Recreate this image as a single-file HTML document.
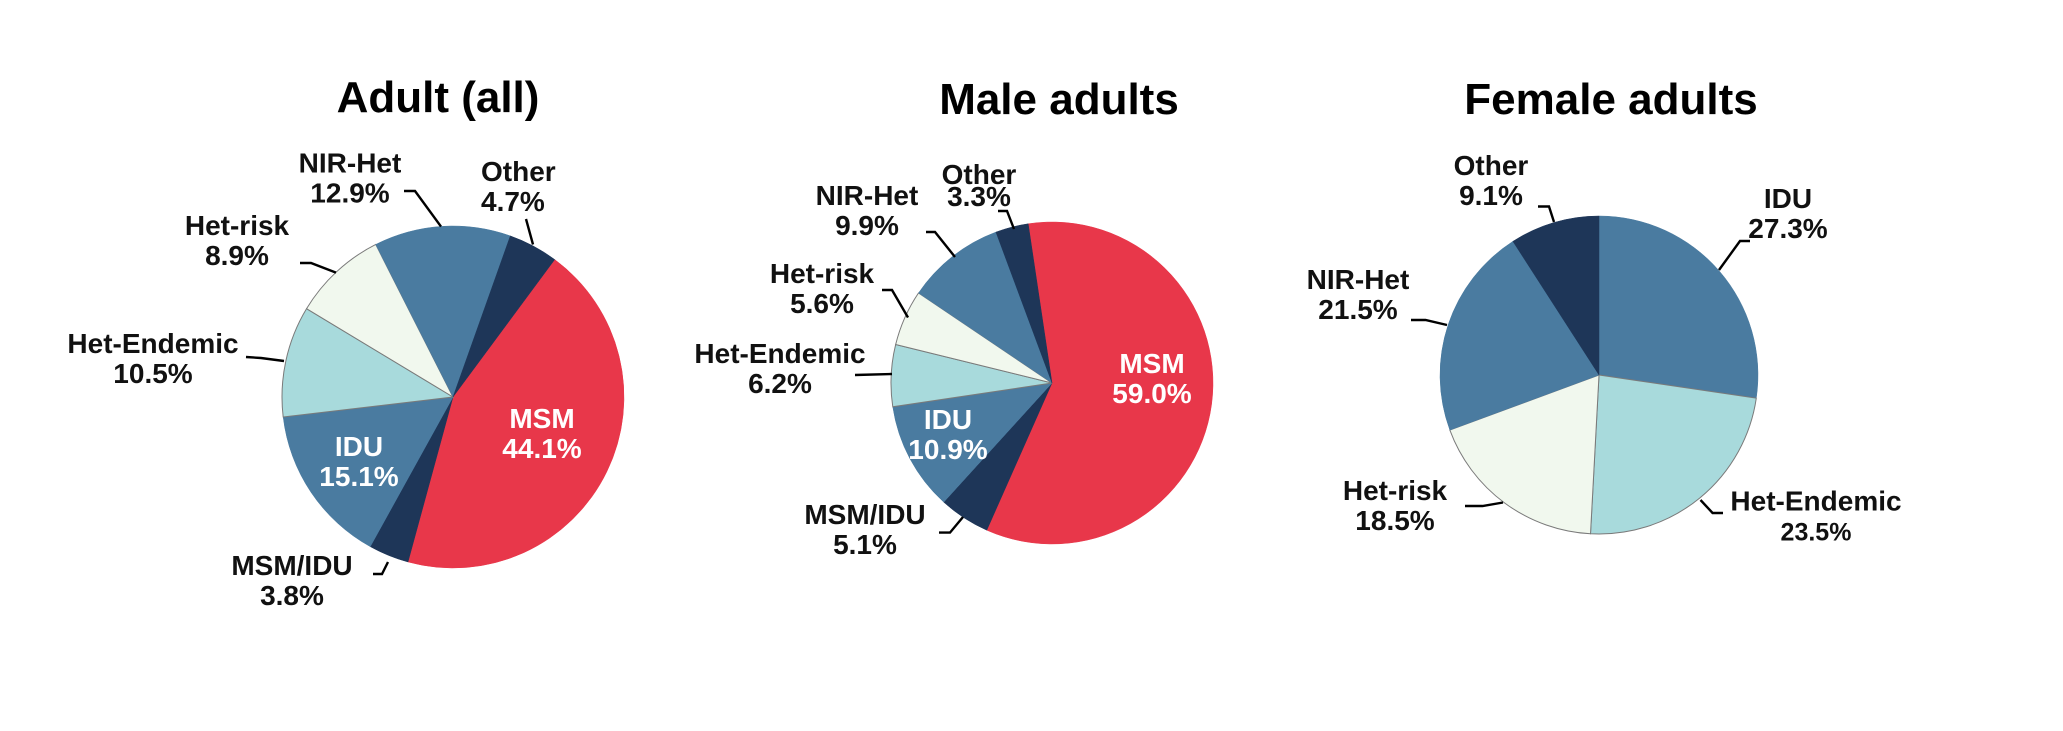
<!DOCTYPE html>
<html><head><meta charset="utf-8"><style>
html,body{margin:0;padding:0;background:#fff;}
svg{display:block;}
text{font-family:"Liberation Sans",sans-serif;font-weight:bold;}
</style></head><body>
<svg id="root" width="2063" height="731" viewBox="0 0 2063 731" xmlns="http://www.w3.org/2000/svg">
<rect width="2063" height="731" fill="#fff"/>
</svg>
<script>
// ---- Data ----
const adultCats = ["MSM","MSM/IDU","IDU","Het-Endemic","Het-risk","NIR-Het","Other"];
const adultVals = [44.1,3.8,15.1,10.5,8.9,12.9,4.7];
const maleCats = ["MSM","MSM/IDU","IDU","Het-Endemic","Het-risk","NIR-Het","Other"];
const maleVals = [59.0,5.1,10.9,6.2,5.6,9.9,3.3];
const femaleCats = ["IDU","Het-Endemic","Het-risk","NIR-Het","Other"];
const femaleVals = [27.3,23.5,18.5,21.5,9.1];
const titles = ["Adult (all)","Male adults","Female adults"];

const colors = {"MSM":"#E8374A","MSM/IDU":"#1E3658","IDU":"#4A7BA0","Het-Endemic":"#A8DADC","Het-risk":"#F1F8EE","NIR-Het":"#4A7BA0","Other":"#1E3658"};
const NS="http://www.w3.org/2000/svg";
const root=document.getElementById('root');
function mk(tag,attrs,parent){const e=document.createElementNS(NS,tag);for(const k in attrs)e.setAttribute(k,attrs[k]);(parent||root).appendChild(e);return e;}
function slug(s){return s.toLowerCase().replace(/[^a-z0-9]+/g,'-').replace(/-$/,'');}

// layout config (positions only)
const charts=[
 {cats:adultCats,vals:adultVals,cx:453,cy:397,r:171,start:36.5,title:titles[0],tx:438,ty:112,
  labels:{
   "MSM":{x:542,y:428,white:true},
   "IDU":{x:359,y:456,white:true},
   "MSM/IDU":{x:292,y:575,lead:[[373,574],[382,574],[388,562]]},
   "Het-Endemic":{x:153,y:353,lead:[[246,357],[261,358],[284,361]]},
   "Het-risk":{x:237,y:235,lead:[[300,263],[311,263],[336,272.6]]},
   "NIR-Het":{x:350,y:172.5,lead:[[404,191],[415,191],[441,226.6]]},
   "Other":{x:481,y:181,anchor:"start",lead:[[526,219],[533,244.5]]}}},
 {cats:maleCats,vals:maleVals,cx:1052,cy:383,r:161,start:351.5,title:titles[1],tx:1059,ty:114,
  labels:{
   "MSM":{x:1152,y:373,white:true},
   "IDU":{x:948,y:429,white:true},
   "MSM/IDU":{x:865,y:524,lead:[[939,532.6],[950,532.6],[963,517]]},
   "Het-Endemic":{x:780,y:363,lead:[[855,375],[892,374]]},
   "Het-risk":{x:822,y:283,lead:[[882,290],[892,290],[908,317.5]]},
   "NIR-Het":{x:867,y:205,lead:[[926,232],[935,232],[955,257]]},
   "Other":{x:979,y:184,lh:22,lead:[[998,211],[1007,211],[1014,229]]}}},
 {cats:femaleCats,vals:femaleVals,cx:1599,cy:375,r:159,start:0,title:titles[2],tx:1611,ty:114,
  labels:{
   "IDU":{x:1788,y:208,lead:[[1750,241],[1740,241],[1719,270]]},
   "Het-Endemic":{x:1816,y:510.5,small:true,lead:[[1700.5,500],[1712.6,513],[1723,513]]},
   "Het-risk":{x:1395,y:500,lead:[[1465,506],[1482.5,506],[1503,502.5]]},
   "NIR-Het":{x:1358,y:289,lead:[[1411,320],[1425.5,320],[1447,325]]},
   "Other":{x:1491,y:175,lead:[[1538,206.5],[1549,206.5],[1554,222]]}}}
];

function pt(cx,cy,r,deg){const a=(deg-90)*Math.PI/180;return [cx+r*Math.cos(a),cy+r*Math.sin(a)];}

charts.forEach((c,ci)=>{
  const g=mk('g',{});
  
  
  const t=mk('text',{x:c.tx,y:c.ty,'text-anchor':'middle','font-size':44,fill:'#000'},g);
  t.textContent=c.title;
  
  
  const total=c.vals.reduce((a,b)=>a+b,0);
  let ang=c.start;
  c.cats.forEach((cat,i)=>{
    const sweep=c.vals[i]/total*360;
    const p0=pt(c.cx,c.cy,c.r,ang), p1=pt(c.cx,c.cy,c.r,ang+sweep);
    const large=sweep>180?1:0;
    const light=(cat==="Het-Endemic"||cat==="Het-risk");
    const p=mk('path',{d:`M${c.cx},${c.cy} L${p0[0]},${p0[1]} A${c.r},${c.r} 0 ${large} 1 ${p1[0]},${p1[1]} Z`,
      fill:colors[cat],stroke:light?'#7a7a7a':colors[cat],'stroke-width':light?1:0.5},g);
    
    
    ang+=sweep;
  });
  c.cats.forEach((cat,i)=>{
    const L=c.labels[cat]; if(!L) return;
    const lh=L.lh||30;
    const tx=mk('text',{x:L.x,y:L.y,'text-anchor':L.anchor||'middle','font-size':28,fill:L.white?'#fff':'#111'},g);
    
    
    const s1=mk('tspan',{x:L.x,y:L.y},tx); s1.textContent=cat;
    const s2=mk('tspan',{x:L.x,y:L.y+lh},tx); s2.textContent=c.vals[i].toFixed(1)+'%';
    if(L.small) s2.setAttribute('font-size','25');
    if(L.lead){
      const pl=mk('polyline',{points:L.lead.map(q=>q.join(',')).join(' '),fill:'none',stroke:'#000','stroke-width':2.4},g);
      
      
    }
  });
});
</script>
</body></html>
